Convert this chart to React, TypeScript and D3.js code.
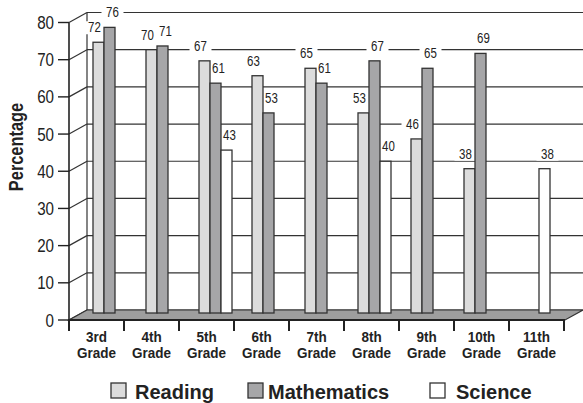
import React from "react";
import * as d3 from "d3";

const grades = ["3rd", "4th", "5th", "6th", "7th", "8th", "9th", "10th", "11th"];
const seriesNames = ["Reading", "Mathematics", "Science"];
const reading: (number | null)[] = [72, 70, 67, 63, 65, 53, 46, 38, null];
const mathematics: (number | null)[] = [76, 71, 61, 53, 61, 67, 65, 69, null];
const science: (number | null)[] = [null, null, 43, null, null, 40, null, null, 38];
const yTicks = [0, 10, 20, 30, 40, 50, 60, 70, 80];

const W = 583;
const H = 403;
const SANS = "'Liberation Sans', Arial, sans-serif";
const fills = ["#dcdcdc", "#a6a6a8", "#ffffff"];
const labelDx = [-4, 3, 3];

function NText(props: {
  x: number; y: number; size: number; anchor?: string; weight?: string; rotate?: number; sx?: number; children: React.ReactNode;
}) {
  const { x, y, size, anchor = "start", weight = "normal", rotate = 0, sx = 0.82, children } = props;
  return (
    <text
      transform={`translate(${x},${y}) rotate(${rotate}) scale(${sx},1)`}
      textAnchor={anchor}
      fontFamily={SANS}
      fontWeight={weight}
      fontSize={size}
      fill="#222"
    >
      {children}
    </text>
  );
}

export default function App() {
  const depthX = 18;
  const depthY = -10;
  const yF = d3.scaleLinear().domain([0, 80]).range([320, 22.5]);
  const yB = (v: number) => yF(v) + depthY;
  const xTick = d3.scaleBand<string>().domain(grades).range([69, 564]);
  const xGroup = d3.scaleBand<string>().domain(grades).range([80, 557]);
  const barW = 11;
  const barBottom = 313;
  const frontL = 69, frontR = 564;
  const backL = frontL + depthX, backR = frontR + depthX + 1;
  const series = [reading, mathematics, science];

  const bars: React.ReactNode[] = [];
  const labelBgs: React.ReactNode[] = [];
  const labels: React.ReactNode[] = [];
  grades.forEach((g, i) => {
    series.forEach((s, k) => {
      const v = s[i];
      if (v == null) return;
      const x = (xGroup(g) as number) + 13 + k * barW;
      const top = yB(v);
      bars.push(
        <rect key={`b${i}-${k}`} x={x} y={top} width={barW} height={barBottom - top}
          fill={fills[k]} stroke="#333" strokeWidth={1.3} />
      );
      const cx = x + barW / 2 + labelDx[k];
      const by = top - 10;
      labelBgs.push(
        <rect key={`lb${i}-${k}`} x={cx - 11} y={by - 11} width={22} height={13} fill="#fff" />
      );
      labels.push(
        <NText key={`l${i}-${k}`} x={cx} y={by} size={14} anchor="middle">{v}</NText>
      );
    });
  });

  return (
    <svg width={W} height={H} style={{ display: "block", position: "absolute", left: 0, top: 0 }}>
      <rect x={0} y={0} width={W} height={H} fill="#fff" />
      {yTicks.map((t) => (
        <line key={`g${t}`} x1={backL} x2={backR} y1={yB(t)} y2={yB(t)} stroke="#333" strokeWidth={1.2} />
      ))}
      <line x1={backL} x2={backL} y1={yB(80)} y2={yB(0)} stroke="#333" strokeWidth={1.2} />
      {yTicks.map((t) => (
        <line key={`d${t}`} x1={frontL} y1={yF(t)} x2={backL} y2={yB(t)} stroke="#333" strokeWidth={1.2} />
      ))}
      {labelBgs}
      <polygon points={`${frontL},${yF(0)} ${backL},${yB(0)} ${backR},${yB(0)} ${frontR + 1},${yF(0)}`}
        fill="#9e9e9e" stroke="#333" strokeWidth={1.2} />
      {bars}
      {labels}
      <line x1={frontL} x2={frontL} y1={yF(80)} y2={yF(0)} stroke="#222" strokeWidth={1.6} />
      <line x1={frontL - 1} x2={frontR + 1} y1={yF(0)} y2={yF(0)} stroke="#222" strokeWidth={2} />
      {yTicks.map((t) => (
        <g key={`t${t}`}>
          <line x1={58} x2={frontL} y1={yF(t)} y2={yF(t)} stroke="#222" strokeWidth={1.4} />
          <NText x={54} y={yF(t) + 6.5} size={18.5} anchor="end">{t}</NText>
        </g>
      ))}
      {[...grades.map((g) => xTick(g) as number), frontR].map((x, i) => (
        <line key={`xt${i}`} x1={x} x2={x} y1={yF(0)} y2={yF(0) + 11} stroke="#222" strokeWidth={2} />
      ))}
      {grades.map((g) => {
        const cx = (xTick(g) as number) + xTick.bandwidth() / 2;
        return (
          <g key={`c${g}`}>
            <NText x={cx} y={342} size={15} weight="bold" anchor="middle" sx={0.9}>{g}</NText>
            <NText x={cx} y={358} size={15} weight="bold" anchor="middle" sx={0.9}>Grade</NText>
          </g>
        );
      })}
      <NText x={23} y={147} size={20} weight="bold" anchor="middle" rotate={-90}>Percentage</NText>
      {seriesNames.map((n, k) => {
        const sx = [111, 248, 430][k];
        const tx = [135, 268, 456][k];
        return (
          <g key={`lg${n}`}>
            <rect x={sx} y={383} width={15} height={15} fill={fills[k]} stroke="#333" strokeWidth={1.3} />
            <NText x={tx} y={399} size={20} weight="bold" sx={1}>{n}</NText>
          </g>
        );
      })}
    </svg>
  );
}
